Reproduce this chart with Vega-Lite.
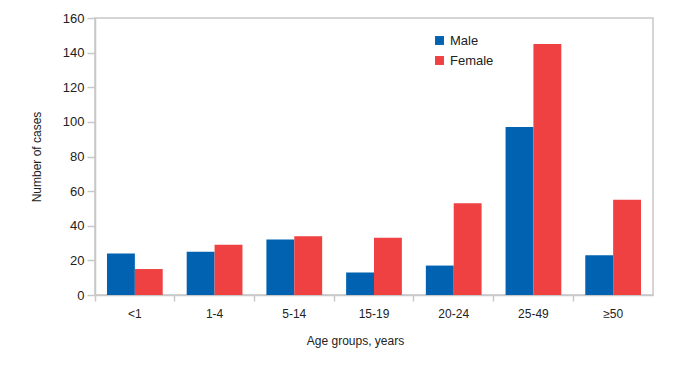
{
  "$schema": "https://vega.github.io/schema/vega-lite/v6.json",
  "width": 558,
  "height": 277,
  "autosize": {"type": "none"},
  "padding": {"left": 95, "top": 18, "right": 27, "bottom": 74},
  "background": "white",
  "config": {
    "font": "Liberation Sans",
    "view": {"stroke": "#c8c8c8", "strokeWidth": 1.5}
  },
  "data": {
    "values": [
      {"age": "<1", "sex": "Male", "cases": 24},
      {"age": "<1", "sex": "Female", "cases": 15},
      {"age": "1-4", "sex": "Male", "cases": 25},
      {"age": "1-4", "sex": "Female", "cases": 29},
      {"age": "5-14", "sex": "Male", "cases": 32},
      {"age": "5-14", "sex": "Female", "cases": 34},
      {"age": "15-19", "sex": "Male", "cases": 13},
      {"age": "15-19", "sex": "Female", "cases": 33},
      {"age": "20-24", "sex": "Male", "cases": 17},
      {"age": "20-24", "sex": "Female", "cases": 53},
      {"age": "25-49", "sex": "Male", "cases": 97},
      {"age": "25-49", "sex": "Female", "cases": 145},
      {"age": "≥50", "sex": "Male", "cases": 23},
      {"age": "≥50", "sex": "Female", "cases": 55}
    ]
  },
  "mark": {"type": "bar"},
  "encoding": {
    "x": {
      "field": "age",
      "type": "nominal",
      "sort": ["<1", "1-4", "5-14", "15-19", "20-24", "25-49", "≥50"],
      "scale": {"paddingInner": 0, "paddingOuter": 0},
      "axis": {
        "title": "Age groups, years",
        "titleFontWeight": "normal",
        "titleFontSize": 12,
        "titleColor": "#222",
        "titlePadding": 16,
        "titleX": 260,
        "titleAnchor": "middle",
        "labelAngle": 0,
        "labelFontSize": 12,
        "labelColor": "#222",
        "labelPadding": 7,
        "bandPosition": 0,
        "tickSize": 6,
        "tickColor": "#c8c8c8",
        "tickWidth": 1.5,
        "domainColor": "#c8c8c8",
        "domainWidth": 1.5,
        "grid": false
      }
    },
    "xOffset": {
      "field": "sex",
      "type": "nominal",
      "sort": ["Male", "Female"],
      "scale": {"paddingInner": 0, "paddingOuter": 0.43}
    },
    "y": {
      "field": "cases",
      "type": "quantitative",
      "scale": {"domain": [0, 160], "nice": false},
      "axis": {
        "title": "Number of cases",
        "titleFontWeight": "normal",
        "titleFontSize": 12,
        "titleColor": "#222",
        "titlePadding": 19,
        "values": [0, 20, 40, 60, 80, 100, 120, 140, 160],
        "labelFontSize": 13,
        "labelColor": "#222",
        "labelPadding": 3,
        "tickSize": 8,
        "tickColor": "#c8c8c8",
        "tickWidth": 1.5,
        "domainColor": "#c8c8c8",
        "domainWidth": 1.5,
        "grid": false
      }
    },
    "color": {
      "field": "sex",
      "type": "nominal",
      "sort": ["Male", "Female"],
      "scale": {"domain": ["Male", "Female"], "range": ["#0062B1", "#EF4141"]},
      "legend": {
        "title": null,
        "orient": "none",
        "legendX": 338,
        "legendY": 16,
        "symbolType": "square",
        "symbolSize": 80,
        "symbolStrokeWidth": 0,
        "labelFontSize": 13,
        "labelColor": "#222",
        "rowPadding": 6,
        "labelOffset": 4
      }
    }
  }
}
